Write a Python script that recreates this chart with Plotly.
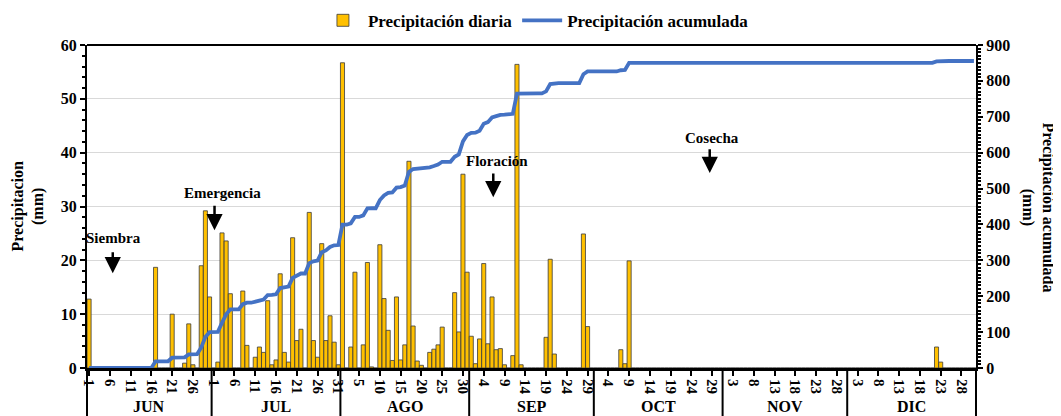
import numpy as np
import plotly.graph_objects as go

# ---------------- data (daily precipitation, mm) ----------------
months = ["JUN", "JUL", "AGO", "SEP", "OCT", "NOV", "DIC"]

jun = [12.8, 0, 0, 0, 0, 0, 0, 0, 0, 0, 0, 0, 0, 0, 0, 0, 18.7, 0, 0, 0,
       10.0, 0, 0, 0.9, 8.2, 0.6, 0, 19.0, 29.2, 13.2]
jul = [0, 1.1, 25.1, 23.6, 13.8, 0, 0, 14.3, 4.2, 0, 2.0, 3.9, 2.9, 12.5, 0.6,
       1.5, 17.5, 2.9, 1.1, 24.2, 5.1, 7.2, 0, 28.9, 5.1, 2.0, 23.1, 5.1, 9.7, 4.8, 0.6]
ago = [56.7, 0, 3.9, 17.8, 0, 4.3, 19.6, 0.2, 0, 22.9, 12.9, 7.0, 1.4, 13.2, 1.5,
       4.3, 38.4, 7.8, 1.3, 0.5, 0, 2.9, 3.5, 4.3, 7.6, 0, 0, 14.0, 6.7, 36.0, 17.8]
sep = [5.9, 0.8, 5.4, 19.4, 4.5, 13.2, 3.4, 3.6, 0.6, 0, 2.3, 56.4, 0.6, 0, 0,
       0, 0, 0, 5.7, 20.2, 2.6, 0, 0, 0, 0, 0, 0, 24.9, 7.7, 0]
oct_ = [0, 0, 0, 0, 0, 0, 3.4, 0.8, 19.9, 0, 0, 0, 0, 0, 0, 0, 0, 0, 0, 0,
        0, 0, 0, 0, 0, 0, 0, 0, 0, 0, 0]
nov = [0] * 30
dic = [0, 0, 0, 0, 0, 0, 0, 0, 0, 0, 0, 0, 0, 0, 0, 0, 0, 0, 0, 0,
       0, 3.9, 1.1, 0, 0, 0, 0, 0, 0, 0, 0]

month_lists = [jun, jul, ago, sep, oct_, nov, dic]
daily = np.array(sum(month_lists, []), dtype=float)
n_days = len(daily)
day_index = np.arange(n_days)

# accumulated precipitation counted from sowing (Siembra)
SOWING_INDEX = 6
accum = np.cumsum(np.where(day_index >= SOWING_INDEX, daily, 0.0))

# x tick labels (every 5 days)
tick_positions = list(range(0, n_days, 5))
tick_labels = ["1", "6", "11", "16", "21", "26",
               "1", "6", "11", "16", "21", "26", "31",
               "5", "10", "15", "20", "25", "30",
               "4", "9", "14", "19", "24", "29",
               "4", "9", "14", "19", "24", "29",
               "3", "8", "13", "18", "23", "28",
               "3", "8", "13", "18", "23", "28"]

stages = ["Siembra", "Emergencia", "Floración", "Cosecha"]

# ---------------- figure ----------------
FONT = "Liberation Serif, Times New Roman, serif"
PLOT_W, PLOT_H = 889, 323
fig = go.Figure()

fig.add_trace(go.Bar(
    x=day_index, y=daily, name="Precipitación diaria",
    marker=dict(color="#FFC000", line=dict(color="#3a3a3a", width=0.8)),
    yaxis="y",
))
fig.add_trace(go.Scatter(
    x=day_index, y=accum, name="Precipitación acumulada", mode="lines",
    line=dict(color="#4472C4", width=3.8), yaxis="y2",
))

fig.update_layout(
    width=1053, height=408,
    margin=dict(l=79, r=85, t=37, b=48, autoexpand=False),
    paper_bgcolor="white", plot_bgcolor="white",
    font=dict(family=FONT, size=16, color="black", weight="bold"),
    bargap=0.02,
    showlegend=True,
    legend=dict(orientation="h", x=0.505, xanchor="center", y=1.075, yanchor="middle",
                font=dict(family=FONT, size=17, color="black", weight="bold"),
                bgcolor="rgba(0,0,0,0)", itemwidth=40),
    xaxis=dict(
        range=[-0.5, n_days - 0.5], showgrid=False, zeroline=False,
        showline=True, linecolor="black", linewidth=3,
        tickmode="array", tickvals=tick_positions, ticktext=tick_labels,
        tickangle=90, ticks="outside", ticklen=5, tickwidth=1.5, tickcolor="black",
        tickfont=dict(family=FONT, size=15, color="black", weight="bold"),
        automargin=False,
    ),
    yaxis=dict(
        range=[0, 60], dtick=10, showgrid=True, gridcolor="#d9d9d9", gridwidth=1,
        zeroline=False, showline=True, linecolor="black", linewidth=2,
        ticks="outside", ticklen=5, tickwidth=1.5, tickcolor="black",
        minor=dict(dtick=2, ticks="outside", ticklen=3, tickcolor="black", showgrid=False),
        tickfont=dict(family=FONT, size=16, color="black", weight="bold"),
        automargin=False,
    ),
    yaxis2=dict(
        range=[0, 900], dtick=100, overlaying="y", side="right", showgrid=False,
        zeroline=False, showline=True, linecolor="black", linewidth=2,
        ticks="outside", ticklen=5, tickwidth=1.5, tickcolor="black",
        minor=dict(dtick=10, ticks="outside", ticklen=3, tickcolor="black", showgrid=False),
        tickfont=dict(family=FONT, size=16, color="black", weight="bold"),
        automargin=False,
    ),
)

# top border of plot
fig.add_shape(type="line", xref="paper", yref="paper", x0=0, x1=1, y0=1, y1=1,
              line=dict(color="black", width=2))

# month boxes below axis
bounds = np.concatenate([[0], np.cumsum([len(m) for m in month_lists])])
for b in bounds:
    fig.add_shape(type="line", xref="paper", yref="paper",
                  x0=b / n_days, x1=b / n_days, y0=0, y1=-0.25,
                  line=dict(color="black", width=2))
for i, name in enumerate(months):
    fig.add_annotation(xref="paper", yref="paper",
                       x=(bounds[i] + bounds[i + 1]) / 2 / n_days, y=-0.119,
                       text=name, showarrow=False, xanchor="center", yanchor="middle",
                       font=dict(family=FONT, size=16, color="black", weight="bold"))

# stage labels and arrows (text pos, arrow x, arrow tail y, arrow head y)
stage_layout = [
    (5.9, 24.1, 5.7, 21.8, 17.6),
    (32.0, 32.5, 30.2, 30.4, 25.6),
    (98.1, 38.4, 97.3, 36.4, 31.7),
    (149.9, 42.8, 149.4, 40.9, 36.2),
]
for label, (tx, ty, axx, tail, head) in zip(stages, stage_layout):
    fig.add_annotation(x=tx, y=ty, xref="x", yref="y", text=label, showarrow=False,
                       xanchor="center", yanchor="middle",
                       font=dict(family=FONT, size=15, color="black", weight="bold"))
    fig.add_annotation(x=axx, y=head, ax=axx, ay=tail, xref="x", yref="y",
                       axref="x", ayref="y", text="", showarrow=True,
                       arrowhead=2, arrowsize=1.3, arrowwidth=2.5, arrowcolor="black")

# axis titles
fig.add_annotation(xref="paper", yref="paper", x=(28 - 87) / PLOT_W, y=0.5,
                   text="Precipitacion<br>(mm)", textangle=-90, showarrow=False,
                   xanchor="center", yanchor="middle",
                   font=dict(family=FONT, size=16, color="black", weight="bold"))
fig.add_annotation(xref="paper", yref="paper", x=(1038 - 87) / PLOT_W, y=0.497,
                   text="Precipitación acumulada<br>(mm)", textangle=90, showarrow=False,
                   xanchor="center", yanchor="middle",
                   font=dict(family=FONT, size=16, color="black", weight="bold"))

fig.write_html("out.html")
